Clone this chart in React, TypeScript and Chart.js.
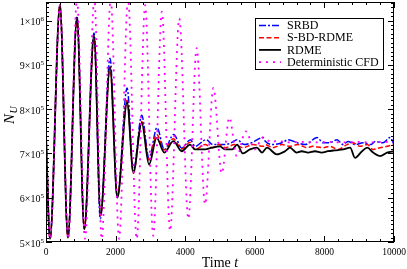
import React, { useEffect, useRef } from "react";
import { Chart, registerables } from "chart.js";

Chart.register(...registerables);

// ---- Data (time, N_U) ----
const srbdT = [0, 115, 400, 630, 890, 1100, 1380, 1560, 1840, 2050, 2330, 2510, 2750, 2960, 3190, 3400, 3670, 3900, 4150, 4282, 4600, 4800, 5140, 5346, 5489, 5700, 5930, 6237, 6294, 6520, 6780, 6960, 7220, 7450, 7790, 7960, 8160, 8363, 8536, 8680, 8880, 9110, 9340, 9460, 9680, 9890, 10000];
const srbdN = [740000, 507000, 1035000, 510000, 1010000, 530000, 972000, 552000, 915000, 600000, 848000, 660000, 786000, 690000, 758000, 709000, 743000, 712000, 731000, 716000, 731000, 720000, 720000, 725000, 731000, 720000, 725000, 736000, 728000, 720000, 724000, 731000, 724000, 720000, 736000, 724000, 724000, 731000, 720000, 727000, 720000, 724000, 720000, 727000, 724000, 736000, 720000];

const sbdT = [0, 115, 400, 630, 890, 1100, 1380, 1570, 1840, 2050, 2330, 2510, 2750, 2960, 3180, 3400, 3660, 3900, 4140, 4280, 4570, 4770, 4970, 5150, 5420, 5660, 5950, 6240, 6294, 6520, 6780, 7010, 7240, 7500, 7670, 7950, 8160, 8390, 8650, 8820, 9020, 9230, 9400, 9600, 9800, 10000];
const sbdN = [740000, 507000, 1035000, 510000, 1005000, 530000, 960000, 560000, 895000, 605000, 820000, 655000, 772000, 685000, 743000, 708000, 733000, 710000, 725000, 709000, 720000, 713000, 720000, 713000, 720000, 713000, 720000, 716000, 720000, 713000, 720000, 716000, 720000, 713000, 716000, 713000, 716000, 709000, 720000, 724000, 716000, 720000, 709000, 713000, 716000, 720000];

const rdmeT = [0, 115, 400, 630, 890, 1100, 1380, 1570, 1840, 2050, 2330, 2510, 2750, 2960, 3180, 3400, 3660, 3900, 4140, 4280, 4570, 4770, 5000, 5140, 5350, 5490, 5660, 5860, 6060, 6210, 6350, 6630, 6870, 7010, 7200, 7350, 7530, 7730, 7920, 8100, 8300, 8540, 8740, 8880, 9080, 9230, 9400, 9600, 9800, 10000];
const rdmeN = [740000, 507000, 1035000, 510000, 1007000, 529000, 967000, 563000, 895000, 600000, 815000, 657000, 769000, 675000, 735000, 702000, 728000, 705000, 720000, 709000, 709000, 713000, 716000, 709000, 709000, 720000, 700000, 709000, 713000, 702000, 713000, 698000, 705000, 713000, 702000, 705000, 702000, 705000, 702000, 705000, 707000, 709000, 713000, 690000, 705000, 713000, 702000, 694000, 702000, 705000];

const cfdT = [0, 115, 400, 640, 890, 1120, 1390, 1600, 1860, 2100, 2357, 2607, 2850, 3080, 3330, 3565, 3830, 4090, 4330, 4570, 4810, 5050, 5270, 5480, 5740, 6000, 6230, 6500, 6630, 6900, 7300, 7700, 8100, 8500, 8900, 9300, 9700, 10000];
const cfdN = [740000, 507000, 1035000, 507000, 1048000, 507000, 1048000, 507000, 1048000, 507000, 1048000, 507000, 1035000, 514000, 1020000, 525000, 1005000, 552000, 938000, 585000, 848000, 655000, 781000, 694000, 750000, 709000, 736000, 725000, 729000, 725000, 726000, 725000, 726000, 725000, 726000, 725000, 726000, 725000];

const seriesNames = ["SRBD", "S-BD-RDME", "RDME", "Deterministic CFD"];
const xTickValues = [0, 2000, 4000, 6000, 8000, 10000];
const yTickMantissas = ["5", "6", "7", "8", "9", "1"];
const yTickExponents = ["5", "5", "5", "5", "5", "6"];
const yTickValues = [500000, 600000, 700000, 800000, 900000, 1000000];

const X_MIN = 0, X_MAX = 10000, Y_MIN = 500000, Y_MAX = 1042000;

const styles = [
  { color: "#0000ff", width: 1.5, dash: [7, 2, 2, 2] },
  { color: "#ff0000", width: 1.5, dash: [5, 2.5] },
  { color: "#000000", width: 1.8, dash: [] as number[] },
  { color: "#ff00ff", width: 1.8, dash: [2, 5] },
];

const SERIF = "'Liberation Serif', 'Times New Roman', serif";

const toXY = (t: number[], n: number[]) => t.map((v, i) => ({ x: v, y: n[i] }));

const framePlugin = {
  id: "gracesFrame",
  afterDraw(chart: any) {
    const { ctx, chartArea } = chart;
    const xs = chart.scales.x;
    const ys = chart.scales.y;
    const L = chartArea.left, R = chartArea.right, T = chartArea.top, B = chartArea.bottom;
    ctx.save();
    ctx.strokeStyle = "#000";
    ctx.lineWidth = 1;
    ctx.setLineDash([]);
    ctx.strokeRect(L + 0.5, T + 0.5, R - L - 1, B - T - 1);

    // x ticks (inward, top and bottom)
    ctx.beginPath();
    for (let v = X_MIN; v <= X_MAX; v += 400) {
      const major = v % 2000 === 0;
      const len = major ? 6 : 3;
      const px = Math.round(xs.getPixelForValue(v)) + 0.5;
      ctx.moveTo(px, B);
      ctx.lineTo(px, B - len);
      ctx.moveTo(px, T);
      ctx.lineTo(px, T + len);
    }
    // y ticks (inward, left and right)
    for (let v = Y_MIN; v <= Y_MAX; v += 10000) {
      const major = v % 100000 === 0;
      const len = major ? 6 : 3;
      const py = Math.round(ys.getPixelForValue(v)) + 0.5;
      ctx.moveTo(L, py);
      ctx.lineTo(L + len, py);
      ctx.moveTo(R, py);
      ctx.lineTo(R - len, py);
    }
    ctx.stroke();

    // x tick labels
    ctx.fillStyle = "#000";
    ctx.font = `9.5px ${SERIF}`;
    ctx.textAlign = "center";
    ctx.textBaseline = "alphabetic";
    xTickValues.forEach((v) => {
      ctx.fillText(String(v), xs.getPixelForValue(v), 255);
    });

    // y tick labels m×10^e
    ctx.textAlign = "left";
    yTickValues.forEach((v, i) => {
      const py = ys.getPixelForValue(v);
      const main = `${yTickMantissas[i]}×10`;
      ctx.font = `10px ${SERIF}`;
      const wm = ctx.measureText(main).width;
      ctx.font = `7px ${SERIF}`;
      const we = ctx.measureText(yTickExponents[i]).width;
      const x0 = 44 - wm - we;
      ctx.font = `10px ${SERIF}`;
      ctx.fillText(main, x0, py + 4.5);
      ctx.font = `7px ${SERIF}`;
      ctx.fillText(yTickExponents[i], x0 + wm, py + 0.5);
    });

    // x axis title
    ctx.font = `14px ${SERIF}`;
    const w1 = ctx.measureText("Time ").width;
    ctx.font = `italic 14px ${SERIF}`;
    const w2 = ctx.measureText("t").width;
    const cx = (L + R) / 2;
    ctx.font = `14px ${SERIF}`;
    ctx.fillText("Time ", cx - (w1 + w2) / 2, 267);
    ctx.font = `italic 14px ${SERIF}`;
    ctx.fillText("t", cx - (w1 + w2) / 2 + w1, 267);

    // y axis title N_U
    ctx.save();
    ctx.translate(14, 124);
    ctx.rotate(-Math.PI / 2);
    ctx.font = `italic 15px ${SERIF}`;
    const wn = ctx.measureText("N").width;
    ctx.fillText("N", 0, 0);
    ctx.font = `italic 10px ${SERIF}`;
    ctx.fillText("U", wn + 0.5, 3);
    ctx.restore();

    // legend
    const bx = 255.5, by = 18.5, bw = 128, bh = 51;
    ctx.fillStyle = "#fff";
    ctx.fillRect(bx, by, bw, bh);
    ctx.strokeStyle = "#000";
    ctx.lineWidth = 1;
    ctx.strokeRect(bx, by, bw, bh);
    ctx.font = `12px ${SERIF}`;
    ctx.textBaseline = "middle";
    seriesNames.forEach((name, i) => {
      const yy = 25.5 + i * 12.2;
      const s = styles[i];
      ctx.beginPath();
      ctx.strokeStyle = s.color;
      ctx.lineWidth = s.width;
      ctx.setLineDash(s.dash);
      ctx.moveTo(259, yy);
      ctx.lineTo(281, yy);
      ctx.stroke();
      ctx.setLineDash([]);
      ctx.fillStyle = "#000";
      ctx.fillText(name, 287, yy + 0.5);
    });
    ctx.restore();
  },
};

export default function App() {
  const canvasRef = useRef<HTMLCanvasElement | null>(null);

  useEffect(() => {
    if (!canvasRef.current) return;
    const datasets = [
      { label: seriesNames[0], data: toXY(srbdT, srbdN), order: 4 },
      { label: seriesNames[1], data: toXY(sbdT, sbdN), order: 3 },
      { label: seriesNames[2], data: toXY(rdmeT, rdmeN), order: 2 },
      { label: seriesNames[3], data: toXY(cfdT, cfdN), order: 1 },
    ].map((d, i) => ({
      ...d,
      borderColor: styles[i].color,
      borderWidth: styles[i].width,
      borderDash: styles[i].dash,
      pointRadius: 0,
      fill: false,
      cubicInterpolationMode: "monotone" as const,
    }));

    const chart = new Chart(canvasRef.current, {
      type: "line",
      data: { datasets },
      options: {
        animation: false,
        responsive: false,
        devicePixelRatio: 1,
        layout: { padding: { top: 2, right: 13, left: 0, bottom: 0 } },
        plugins: { legend: { display: false }, tooltip: { enabled: false } },
        scales: {
          x: {
            type: "linear",
            min: X_MIN,
            max: X_MAX,
            ticks: { display: false },
            grid: { display: false },
            border: { display: false },
            afterFit: (s: any) => { s.height = 27; },
          },
          y: {
            type: "linear",
            min: Y_MIN,
            max: Y_MAX,
            ticks: { display: false },
            grid: { display: false },
            border: { display: false },
            afterFit: (s: any) => { s.width = 46; },
          },
        },
      },
      plugins: [framePlugin],
    });
    return () => chart.destroy();
  }, []);

  return (
    <div style={{ position: "absolute", left: 0, top: 0, width: 407, height: 269, background: "#fff" }}>
      <canvas ref={canvasRef} width={407} height={269} style={{ display: "block" }} />
    </div>
  );
}
